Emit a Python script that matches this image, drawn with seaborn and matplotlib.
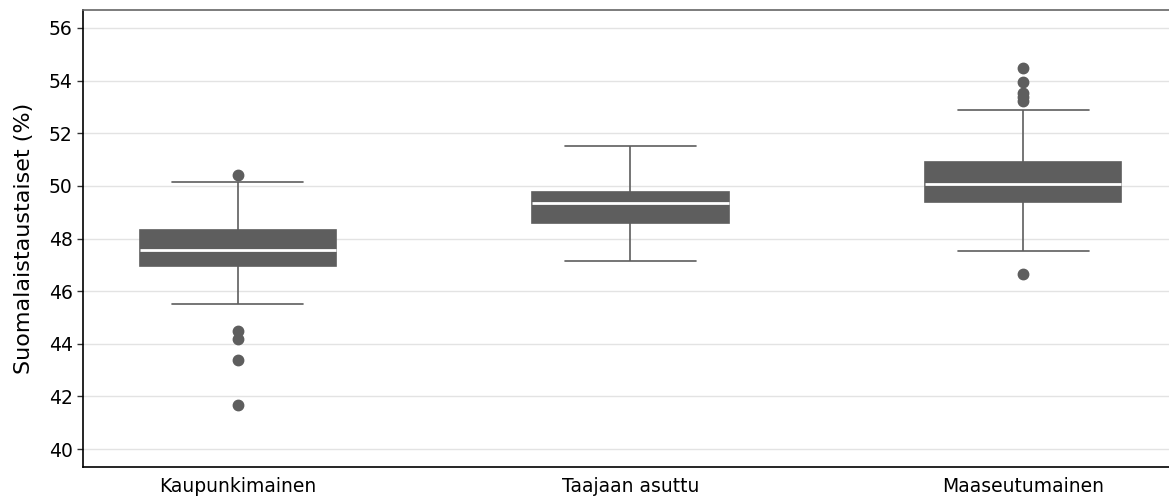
import numpy as np
import pandas as pd
import matplotlib
matplotlib.use("Agg")
import matplotlib.pyplot as plt
import seaborn as sns

# ---- data ----
categories = ["Kaupunkimainen", "Taajaan asuttu", "Maaseutumainen"]
q1 = [46.95, 48.58, 49.38]
median = [47.56, 49.34, 50.06]
q3 = [48.32, 49.76, 50.89]
whisker_low = [45.50, 47.16, 47.53]
whisker_high = [50.15, 51.52, 52.89]
outliers = [
    [44.49, 44.19, 43.40, 41.66, 50.42],
    [],
    [46.65, 53.22, 53.38, 53.52, 53.96, 54.47],
]
yticks = [40, 42, 44, 46, 48, 50, 52, 54, 56]
ylabel = "Suomalaistaustaiset (%)"

# Build a sample per group whose quartiles / whisker ends match the values above
rows = []
for cat, a, m, b, lo, hi, outs in zip(categories, q1, median, q3,
                                      whisker_low, whisker_high, outliers):
    vals = [lo] + [a] * 20 + [m] * 20 + [b] * 20 + [hi] + list(outs)
    rows += [(cat, v) for v in vals]
df = pd.DataFrame(rows, columns=["alue", "osuus"])

sns.set_theme(style="white")
plt.rcParams["font.family"] = ["DejaVu Sans"]

W, H = 1169, 497
fig = plt.figure(figsize=(W / 100, H / 100), dpi=100)
left_px, right_px, top_px, bottom_px = 83, 1178, 10, 467
ax = fig.add_axes([left_px / W, 1 - bottom_px / H,
                   (right_px - left_px) / W, (bottom_px - top_px) / H])

box_col = "#5e5e5e"
sns.boxplot(data=df, x="alue", y="osuus", order=categories, ax=ax,
            width=0.5, color=box_col, linecolor=box_col, saturation=1,
            linewidth=1.2, whis=1.5,
            medianprops=dict(color="white", linewidth=2),
            flierprops=dict(marker="o", markerfacecolor=box_col,
                            markeredgecolor=box_col, markersize=7.5))

# shorten the whisker caps to two thirds of the box width
for ln in ax.lines:
    x = np.asarray(ln.get_xdata(), dtype=float)
    y = np.asarray(ln.get_ydata(), dtype=float)
    if len(x) == 2 and y[0] == y[1] and abs(abs(x[1] - x[0]) - 0.25) < 1e-6:
        c = x.mean()
        ln.set_xdata([c - 1 / 6, c + 1 / 6])

ax.set_xlim(-0.394, 2.394)
ax.set_ylim(39.32, 56.68)
ax.set_yticks(yticks)
ax.set_yticklabels([str(t) for t in yticks])
ax.set_xlabel("")
ax.set_ylabel(ylabel, fontsize=16, color="black")
ax.yaxis.set_label_coords(-0.045, 0.5)

ax.yaxis.grid(True, color="#e3e3e3", linewidth=1.0)
ax.xaxis.grid(False)
ax.set_axisbelow(True)

ax.tick_params(axis="y", length=4.5, width=1, color="#333333",
               labelsize=13.5, labelcolor="black", pad=3, left=True)
ax.tick_params(axis="x", length=0, labelsize=13.5, labelcolor="black", pad=7.5)

for s in ["left", "bottom"]:
    ax.spines[s].set_color("black")
    ax.spines[s].set_linewidth(1.2)
ax.spines["top"].set_color("#666666")
ax.spines["top"].set_linewidth(1.2)
ax.spines["right"].set_visible(False)

fig.savefig("out.png", dpi=100)
